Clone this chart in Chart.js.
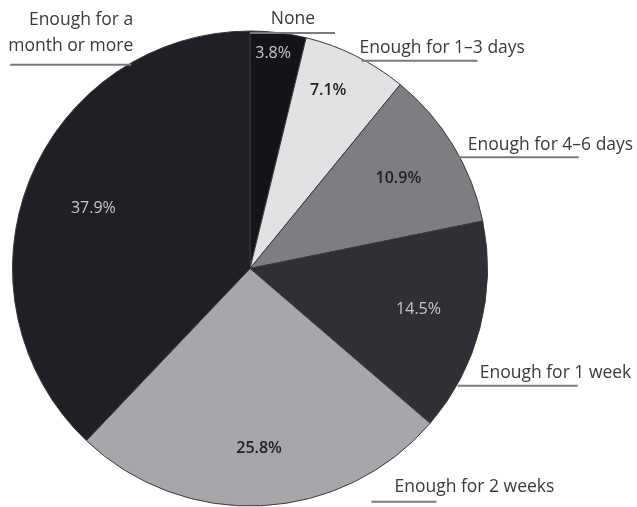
<!DOCTYPE html>
<html lang="en">
<head>
    <meta charset="UTF-8">
    <title>Food supply at home</title>
    <script src="https://cdn.jsdelivr.net/npm/chart.js"></script>
    <style>
        body { margin: 0; background: #fff; }
        #chartContainer { width: 637px; height: 507px; }
    </style>
</head>
<body>
    <div id="chartContainer">
        <canvas id="supplyChart" width="637" height="507"></canvas>
    </div>

    <script>
        // data
        const categories = ['None', 'Enough for 1\u20133 days', 'Enough for 4\u20136 days', 'Enough for 1 week', 'Enough for 2 weeks', 'Enough for a month or more'];
        const shares = [3.8, 7.1, 10.9, 14.5, 25.8, 37.9];
        const calloutText = [['None'], ['Enough for 1\u20133 days'], ['Enough for 4\u20136 days'], ['Enough for 1 week'], ['Enough for 2 weeks'], ['Enough for a', 'month or more']];

        const sliceColors = ['#141418', '#e2e2e4', '#7d7d82', '#2f2f35', '#a6a6ab', '#1f1f25'];
        const pctColors = ['#c8c8c8', '#222', '#222', '#c8c8c8', '#222', '#c8c8c8'];
        const pctWeights = ['400', '600', '600', '400', '600', '400'];
        // where the % text sits: fraction of radius, degrees off the slice middle
        const pctPlace = [[0.91, -0.7], [0.82, -2.8], [0.73, 0], [0.73, -1], [0.76, 0], [0.706, -0.9]];
        // callouts: anchor angle (deg clockwise from top), radius factor, underline length (neg = left), text x offset, text gap above line
        const callouts = [
            { angle: 0, r: 1.0, len: 85, tx: 43, align: 'center', gap: 14 },
            { angle: 28, r: 1.0, len: 116, tx: -2, align: 'left', gap: 13 },
            { angle: 61.5, r: 1.0, len: 120, tx: 9, align: 'left', gap: 12 },
            { angle: 119, r: 1.0, len: 120, tx: 22, align: 'left', gap: 13 },
            { angle: 152.3, r: 1.1, len: 65, tx: 23, align: 'left', gap: 15 },
            { angle: 330, r: 1.0, len: -121, tx: 0, align: 'right', gap: 19 }
        ];

        const labelFont = '17.5px "Open Sans", sans-serif';

        const labelPlugin = {
            id: 'sliceLabels',
            afterDraw(chart) {
                const ctx = chart.ctx;
                const arcs = chart.getDatasetMeta(0).data;
                ctx.save();
                arcs.forEach((arc, i) => {
                    const cx = arc.x, cy = arc.y, R = arc.outerRadius;

                    // percentage inside
                    const mid = (arc.startAngle + arc.endAngle) / 2 + pctPlace[i][1] * Math.PI / 180;
                    const pr = R * pctPlace[i][0];
                    ctx.font = pctWeights[i] + ' 16px "Open Sans", sans-serif';
                    ctx.fillStyle = pctColors[i];
                    ctx.textAlign = 'center';
                    ctx.textBaseline = 'middle';
                    ctx.fillText(shares[i].toFixed(1) + '%', cx + pr * Math.cos(mid), cy + pr * Math.sin(mid));

                    // callout underline and text
                    const c = callouts[i];
                    const a = (c.angle - 90) * Math.PI / 180;
                    const ax = cx + R * c.r * Math.cos(a);
                    const ay = cy + R * c.r * Math.sin(a) + 2;
                    ctx.strokeStyle = '#7a7a7a';
                    ctx.lineWidth = 2;
                    ctx.beginPath();
                    ctx.moveTo(ax, ay);
                    ctx.lineTo(ax + c.len, ay);
                    ctx.stroke();

                    ctx.font = labelFont;
                    ctx.fillStyle = '#3a3a3a';
                    ctx.textAlign = c.align;
                    ctx.textBaseline = 'middle';
                    const lines = calloutText[i];
                    const tx = c.len < 0 ? ax + c.len + 123 + c.tx : ax + c.tx;
                    lines.forEach((t, k) => {
                        const ty = ay - c.gap - (lines.length - 1 - k) * 26;
                        ctx.fillText(t, tx, ty);
                    });
                });
                ctx.restore();
            }
        };

        new Chart(document.getElementById('supplyChart').getContext('2d'), {
            type: 'pie',
            data: {
                labels: categories,
                datasets: [{
                    data: shares,
                    backgroundColor: sliceColors,
                    borderColor: '#3a3a3a',
                    borderWidth: 1
                }]
            },
            options: {
                responsive: false,
                animation: false,
                layout: { padding: { left: 12, right: 149, top: 30, bottom: 0 } },
                plugins: {
                    legend: { display: false },
                    tooltip: { enabled: false }
                }
            },
            plugins: [labelPlugin]
        });
    </script>
</body>
</html>
